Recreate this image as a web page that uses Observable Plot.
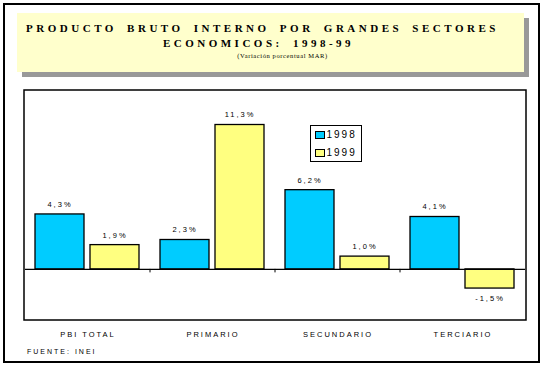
<!DOCTYPE html>
<html>
<head>
<meta charset="utf-8">
<script src="https://cdn.jsdelivr.net/npm/d3@7"></script>
<script src="https://cdn.jsdelivr.net/npm/@observablehq/plot@0.6"></script>
<style>
  html, body { margin: 0; padding: 0; background: #fff; }
  #wrap { position: relative; width: 543px; height: 366px; overflow: hidden; background: #fff; }
  #outer { position: absolute; left: 3px; top: 3px; width: 537px; height: 360px; box-sizing: border-box; border: 2px solid #000; }
  #titlebox { position: absolute; left: 17px; top: 13px; width: 507px; height: 59px; background: #FFFFCC; box-shadow: 5px 5px 0 #999999; }
  .tl { position: absolute; left: 0; width: 100%; text-align: center; font-family: "Liberation Serif", "Times New Roman", serif; font-weight: bold; color: #000; white-space: nowrap; }
  #t1 { top: 8px; font-size: 11px; line-height: 14px; letter-spacing: 3.5px; word-spacing: 4px; padding-left: 0; margin-left: -8px; }
  #t2 { top: 23px; font-size: 11px; line-height: 14px; letter-spacing: 3.5px; word-spacing: 4px; margin-left: -12px; }
  #t3 { top: 39px; font-size: 6.5px; line-height: 8px; font-weight: normal; letter-spacing: 0.6px; margin-left: 12px; }
  #chart { position: absolute; left: 0; top: 84px; }
  #chart svg text { letter-spacing: 2px; }
  #legend { position: absolute; left: 310px; top: 125px; width: 52px; height: 37px; box-sizing: border-box; border: 1.5px solid #000; background: #fff; font-family: "Liberation Sans", Arial, sans-serif; font-size: 10px; }
  .sw { position: absolute; left: 3.5px; width: 10.5px; height: 8.5px; box-sizing: border-box; border: 1px solid #000; }
  .lt { position: absolute; left: 15.5px; line-height: 10px; letter-spacing: 2px; }
  #caption { position: absolute; left: 27px; top: 347px; font-family: "Liberation Sans", Arial, sans-serif; font-size: 7px; line-height: 9px; letter-spacing: 2px; }
</style>
</head>
<body>
<div id="wrap">
  <div id="outer"></div>
  <div id="titlebox">
    <div class="tl" id="t1"></div>
    <div class="tl" id="t2"></div>
    <div class="tl" id="t3"></div>
  </div>
  <div id="chart"></div>
  <div id="legend"></div>
  <div id="caption"></div>
</div>
<script>
const titleLine1 = "PRODUCTO BRUTO INTERNO POR GRANDES SECTORES";
const titleLine2 = "ECONOMICOS: 1998-99";
const subtitle = "(Variación porcentual MAR)";
const sourceNote = "FUENTE: INEI";

const categories = ["PBI TOTAL", "PRIMARIO", "SECUNDARIO", "TERCIARIO"];
const years = ["1998", "1999"];
const values1998 = [4.3, 2.3, 6.2, 4.1];
const values1999 = [1.9, 11.3, 1.0, -1.5];
const colors = ["#00CCFF", "#FFFF80"];

document.getElementById("t1").textContent = titleLine1;
document.getElementById("t2").textContent = titleLine2;
document.getElementById("t3").textContent = subtitle;
document.getElementById("caption").textContent = sourceNote;

const data = [];
categories.forEach((c, i) => {
  data.push({cat: c, year: years[0], value: values1998[i]});
  data.push({cat: c, year: years[1], value: values1999[i]});
});
const fmt = d => d.value.toFixed(1).replace(".", ",") + "%";

const chart = Plot.plot({
  width: 543,
  height: 260,
  marginTop: 6,
  marginBottom: 24,
  marginLeft: 24,
  marginRight: 17,
  style: {fontFamily: "'Liberation Sans', Arial, sans-serif", fontSize: "7.5px", background: "transparent", overflow: "visible", color: "#000"},
  fx: {domain: categories, padding: 0, label: null, axis: "bottom", tickSize: 0, tickPadding: 11},
  x: {domain: years, paddingInner: 0.107, paddingOuter: 0.174, axis: null},
  y: {domain: [-4, 14], axis: null},
  color: {domain: years, range: colors},
  marks: [
    Plot.barY(data, {fx: "cat", x: "year", y: "value", fill: "year", stroke: "#000", strokeWidth: 1.3}),
    Plot.ruleY([0], {stroke: "#000", strokeWidth: 1.3}),
    Plot.text(data, {filter: d => d.value >= 0, fx: "cat", x: "year", y: "value", text: fmt, dy: -10, fill: "#000"}),
    Plot.text(data, {filter: d => d.value < 0, fx: "cat", x: "year", y: "value", text: fmt, dy: 10, fill: "#000"})
  ]
});
document.getElementById("chart").appendChild(chart);

// plot-area frame and category separator ticks, from the library's scales
const fxS = chart.scale("fx");
const yS = chart.scale("y");
const svg = d3.select(chart);
const [yTop, yBot] = [Math.min(...yS.range), Math.max(...yS.range)];
svg.append("rect")
  .attr("x", 24).attr("y", yTop)
  .attr("width", 543 - 24 - 17).attr("height", yBot - yTop)
  .attr("fill", "none").attr("stroke", "#000").attr("stroke-width", 1.5);
const y0 = yS.apply(0);
categories.slice(1).forEach(c => {
  const x = fxS.apply(c);
  svg.append("line").attr("x1", x).attr("x2", x).attr("y1", y0).attr("y2", y0 + 3.5)
    .attr("stroke", "#000").attr("stroke-width", 1);
});

// legend
const legend = document.getElementById("legend");
years.forEach((y, i) => {
  const sw = document.createElement("div");
  sw.className = "sw";
  sw.style.top = (4.8 + i * 17.7) + "px";
  sw.style.background = colors[i];
  legend.appendChild(sw);
  const t = document.createElement("div");
  t.className = "lt";
  t.style.top = (4.2 + i * 17.7) + "px";
  t.textContent = y;
  legend.appendChild(t);
});
</script>
</body>
</html>
